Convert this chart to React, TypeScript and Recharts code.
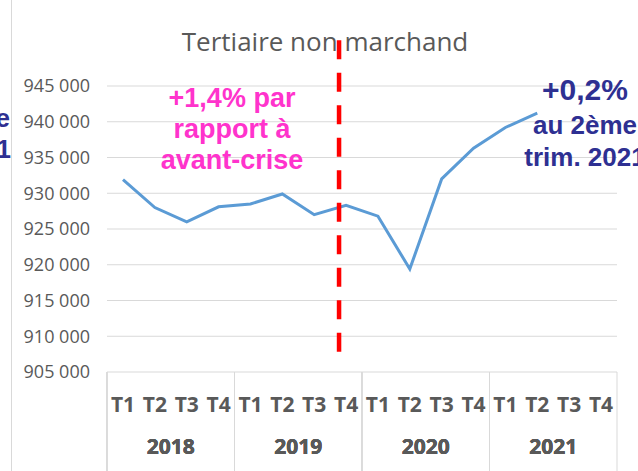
import React from 'react';
import { LineChart, Line, XAxis, YAxis, CartesianGrid, ReferenceLine } from 'recharts';

const quarters = ['T1', 'T2', 'T3', 'T4', 'T1', 'T2', 'T3', 'T4', 'T1', 'T2', 'T3', 'T4', 'T1', 'T2', 'T3', 'T4'];
const years = ['2018', '2018', '2018', '2018', '2019', '2019', '2019', '2019', '2020', '2020', '2020', '2020', '2021', '2021', '2021', '2021'];
const values: (number | null)[] = [
  931900, 928000, 926000, 928100,
  928500, 929900, 927000, 928300,
  926800, 919400, 932000, 936300,
  939200, 941200, null, null,
];
const yTicks = [905000, 910000, 915000, 920000, 925000, 930000, 935000, 940000, 945000];
const crisisMarker = 7.28; // position in quarters from the start of 2018
const crisisTop = 951400;
const crisisBottom = 907800;
const title = 'Tertiaire non marchand';
const leftNote = ['+1,4% par', 'rapport à', 'avant-crise'];
const rightNote = ['+0,2%', 'au 2ème', 'trim. 2021'];
const cutNote = ['au 2ème', 'trim. 2021'];

const data = quarters.map((q, i) => ({ q, year: years[i], pos: i + 0.5, value: values[i] }));

const GRAY = '#595959';
const GRID = '#d9d9d9';
const FONT = '"Open Sans", sans-serif';
const ARIAL = '"Liberation Sans", Arial, sans-serif';
const NAVY = '#2E3092';
const PINK = '#FF33CC';
const QUARTER_AXIS_H = 50;
const YEAR_AXIS_H = 49;
const HALF_STEP = 16;

const fmt = (v: number) => `${Math.floor(v / 1000)} ${String(v % 1000).padStart(3, '0')}`;

const QuarterTick = (props: any) => {
  const { x, y, payload } = props;
  return (
    <text x={x} y={y + 40} textAnchor="middle" fontFamily={FONT} fontWeight="bold" fontSize={21} fill={GRAY}>
      {payload.value}
    </text>
  );
};

const YearTick = (props: any) => {
  const { x, y, payload, index, visibleTicksCount } = props;
  const off = payload && payload.offset != null ? payload.offset : 0;
  const top = y - QUARTER_AXIS_H;
  const bottom = y + YEAR_AXIS_H + 2;
  return (
    <g>
      <text x={x} y={y + 32} textAnchor="middle" fontFamily={FONT} fontWeight="bold" fontSize={21} fill={GRAY}>
        {payload.value}
      </text>
      <line x1={x - off} x2={x - off} y1={top} y2={bottom} stroke={GRID} strokeWidth={1} />
      {index === visibleTicksCount - 1 && <line x1={x + off} x2={x + off} y1={top} y2={bottom} stroke={GRID} strokeWidth={1} />}
    </g>
  );
};

export default function App() {
  return (
    <div style={{ position: 'absolute', left: 0, top: 0, width: 638, height: 471, background: '#fff', overflow: 'hidden' }}>
      <svg width={638} height={471} style={{ position: 'absolute', left: 0, top: 0 }}>
        <line x1={11.5} x2={11.5} y1={0} y2={471} stroke={GRID} strokeWidth={1} />
        <text x={325} y={51} textAnchor="middle" fontFamily={FONT} fontSize={26} fill={GRAY}>{title}</text>
      </svg>
      <div style={{ position: 'absolute', left: 0, top: 0 }}>
        <LineChart width={638} height={471} data={data} margin={{ top: 86, right: 21, bottom: 0, left: 0 }}>
          <CartesianGrid vertical={false} stroke={GRID} strokeWidth={1} />
          <XAxis
            dataKey="q"
            padding={{ left: HALF_STEP, right: HALF_STEP }}
            axisLine={false}
            tickLine={false}
            tickSize={0}
            tickMargin={0}
            height={QUARTER_AXIS_H}
            interval={0}
            tick={<QuarterTick />}
          />
          <XAxis
            xAxisId="year"
            dataKey="year"
            scale="band"
            allowDuplicatedCategory={false}
            axisLine={false}
            tickLine={false}
            tickSize={0}
            tickMargin={0}
            height={YEAR_AXIS_H}
            interval={0}
            tick={<YearTick />}
          />
          <XAxis xAxisId="num" dataKey="pos" type="number" domain={[0, 16]} allowDataOverflow orientation="top" height={0} hide />
          <YAxis
            width={107}
            domain={[905000, 945000]}
            ticks={yTicks}
            tickFormatter={fmt}
            axisLine={false}
            tickLine={false}
            tickSize={0}
            tickMargin={17}
            tick={{ fill: GRAY, fontSize: 18, fontFamily: FONT }}
            allowDataOverflow
          />
          <Line
            dataKey="value"
            stroke="#5B9BD5"
            strokeWidth={3}
            dot={false}
            activeDot={false}
            isAnimationActive={false}
          />
          <ReferenceLine
            xAxisId="num"
            segment={[{ x: crisisMarker, y: crisisTop }, { x: crisisMarker, y: crisisBottom }]}
            ifOverflow="visible"
            stroke="#FF0000"
            strokeWidth={4.5}
            strokeDasharray="19 13.5"
          />
        </LineChart>
      </div>
      <svg width={638} height={471} style={{ position: 'absolute', left: 0, top: 0, pointerEvents: 'none' }}>
        <text x={232} y={107} textAnchor="middle" fontFamily={ARIAL} fontWeight="bold" fontSize={27} fill={PINK}>{leftNote[0]}</text>
        <text x={232} y={138} textAnchor="middle" fontFamily={ARIAL} fontWeight="bold" fontSize={27} fill={PINK}>{leftNote[1]}</text>
        <text x={232} y={169} textAnchor="middle" fontFamily={ARIAL} fontWeight="bold" fontSize={27} fill={PINK}>{leftNote[2]}</text>
        <text x={585} y={100} textAnchor="middle" fontFamily={ARIAL} fontWeight="bold" fontSize={30} fill={NAVY}>{rightNote[0]}</text>
        <text x={585} y={134} textAnchor="middle" fontFamily={ARIAL} fontWeight="bold" fontSize={26} fill={NAVY}>{rightNote[1]}</text>
        <text x={585} y={166} textAnchor="middle" fontFamily={ARIAL} fontWeight="bold" fontSize={26} fill={NAVY}>{rightNote[2]}</text>
        <text x={10} y={127} textAnchor="end" fontFamily={ARIAL} fontWeight="bold" fontSize={26} fill={NAVY}>{cutNote[0]}</text>
        <text x={11} y={158} textAnchor="end" fontFamily={ARIAL} fontWeight="bold" fontSize={26} fill={NAVY}>{cutNote[1]}</text>
      </svg>
    </div>
  );
}
